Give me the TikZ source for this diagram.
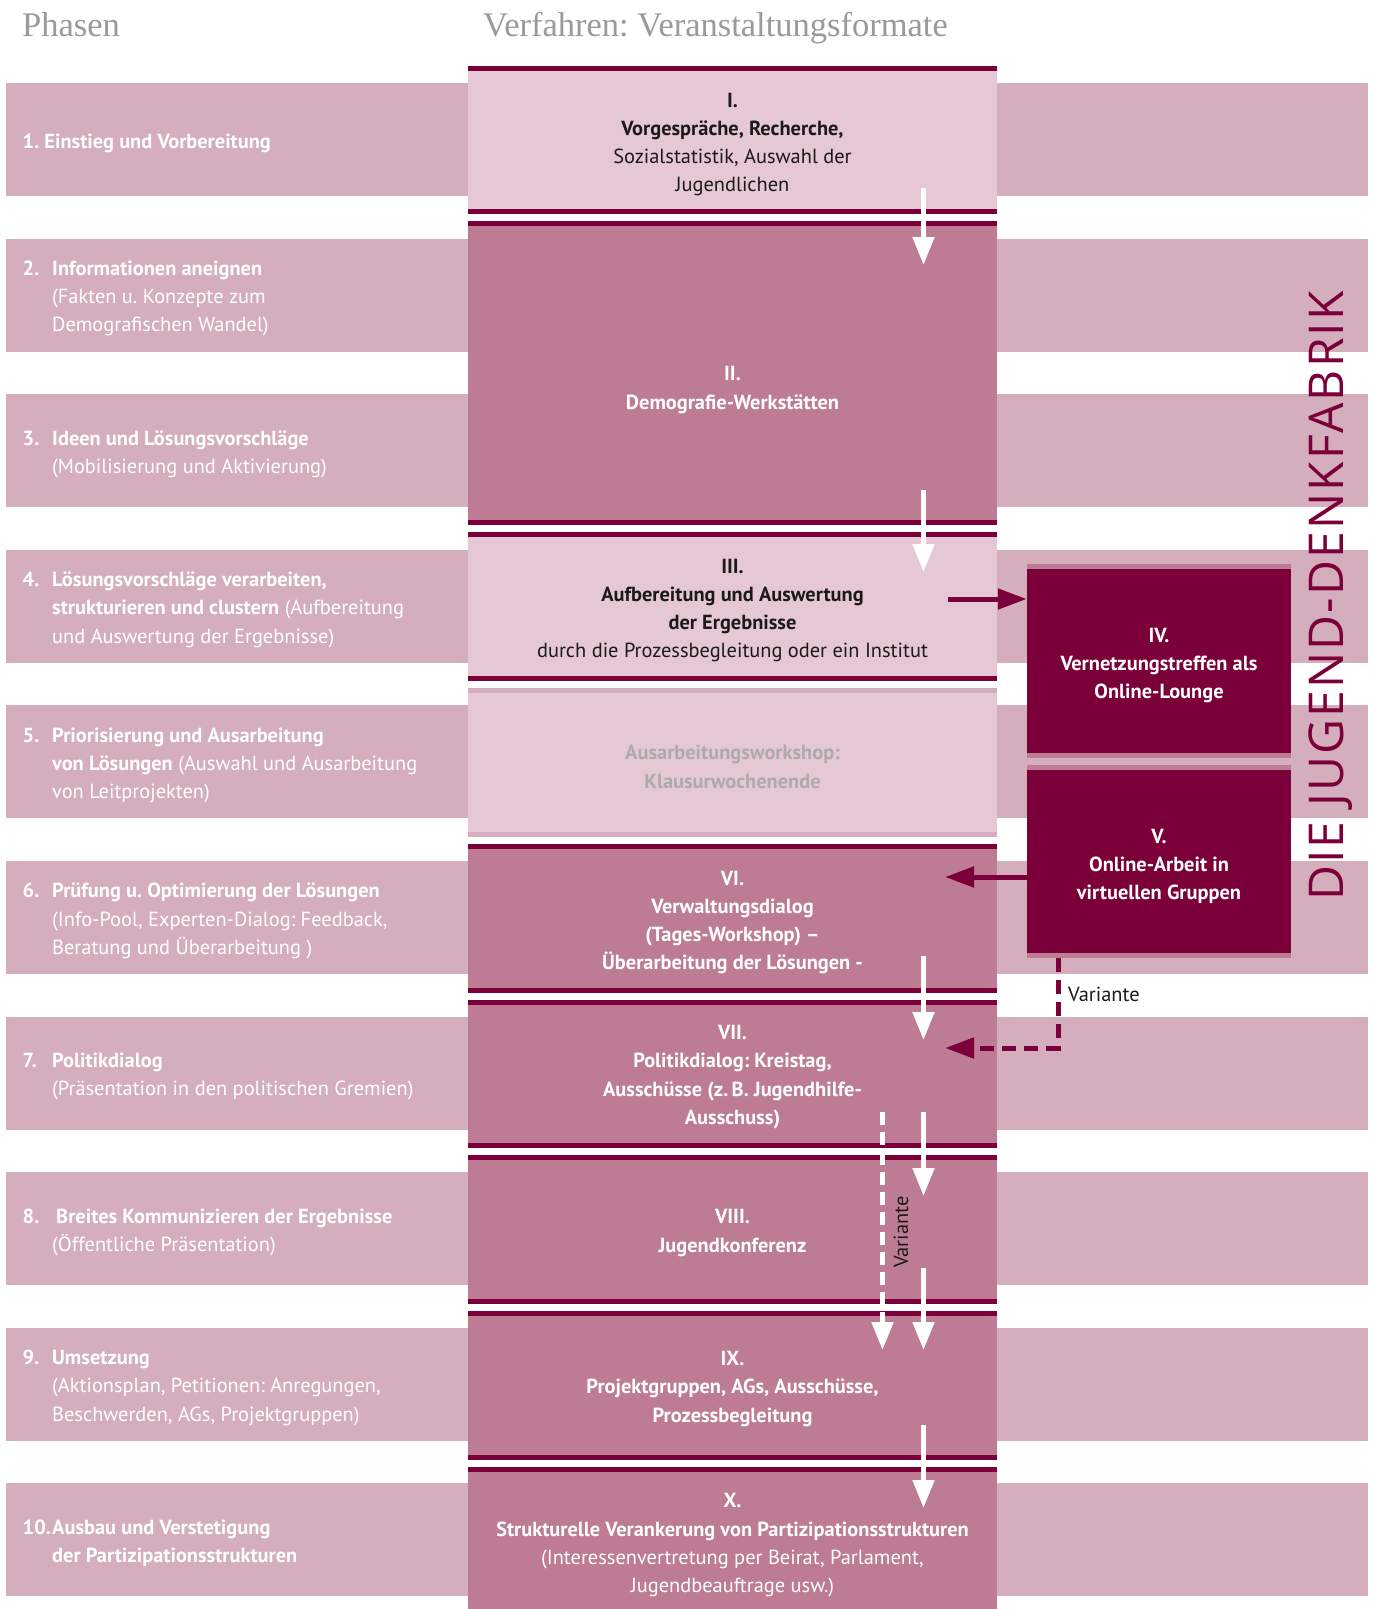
\documentclass[tikz,border=0pt]{standalone}
\usepackage{fontspec}
\setmainfont{PT Sans}
\newfontfamily\headfont{Liberation Serif}
\newfontfamily\titlefont[LetterSpace=4.5]{Open Sans}
\usetikzlibrary{arrows.meta}
\frenchspacing
\definecolor{rowc}{HTML}{D5AEBD}
\definecolor{lightc}{HTML}{E6C8D4}
\definecolor{midc}{HTML}{BD7C93}
\definecolor{darkc}{HTML}{7B0039}
\definecolor{headc}{HTML}{9A9A9A}
\definecolor{ausc}{HTML}{ABABAB}
\definecolor{txtc}{HTML}{1A1A1A}
\newcommand{\nr}[1]{\makebox[29.5pt][l]{\textbf{#1}}}
\newcommand{\ind}{\hspace*{29.5pt}}
\tikzset{
  rowbox/.style={rectangle, fill=rowc, inner sep=0pt, minimum width=1362pt, minimum height=113pt},
  stripes/.style={path picture={
    \fill[#1] (path picture bounding box.north west) rectangle ([yshift=-5pt]path picture bounding box.north east);
    \fill[#1] (path picture bounding box.south west) rectangle ([yshift=5pt]path picture bounding box.south east);}},
  blockbox/.style={rectangle, inner sep=0pt, minimum width=529pt},
  sidebox/.style={rectangle, inner sep=0pt, fill=darkc, minimum width=264pt, stripes=midc},
  basetext/.style={inner sep=0pt, font=\fontsize{20.4pt}{28.3pt}\selectfont},
  ltext/.style={basetext, anchor=west, align=left, text=white},
  ctext/.style={basetext, align=center, text=txtc},
  wtext/.style={basetext, align=center, text=white},
  htext/.style={inner sep=0pt, anchor=base west, text=headc, font=\headfont\fontsize{34.5pt}{38pt}\selectfont},
  warrow/.style={draw=white, line width=5pt, -{Triangle[length=28pt,width=21pt]}},
  darrow/.style={draw=darkc, line width=5pt, -{Triangle[length=29pt,width=20pt]}},
}
\begin{document}
\begin{tikzpicture}[x=1pt,y=-1pt]
\useasboundingbox (0,0) rectangle (1375,1609);
\fill[white] (0,0) rectangle (1375,1609);

% headers
\node[htext] (h1) at (22,36) {Phasen};
\node[htext] (h2) at (483,36) {Verfahren: Veranstaltungsformate};

% phase rows
\foreach \k in {0,...,9} {
  \node[rowbox] (r\k) at (687,{139.5+155.6*\k}) {};
}

% centre blocks
\node[blockbox, fill=lightc, minimum height=148pt, stripes=darkc] (b1) at (732.5,140) {};
\node[blockbox, fill=midc, minimum height=304pt, stripes=darkc] (b2) at (732.5,373) {};
\node[blockbox, fill=lightc, minimum height=149pt, stripes=darkc] (b3) at (732.5,606.5) {};
\node[blockbox, fill=lightc, minimum height=149pt, stripes=rowc] (bA) at (732.5,762.5) {};
\node[blockbox, fill=midc, minimum height=149pt, stripes=darkc] (b6) at (732.5,918.5) {};
\node[blockbox, fill=midc, minimum height=148pt, stripes=darkc] (b7) at (732.5,1074) {};
\node[blockbox, fill=midc, minimum height=149pt, stripes=darkc] (b8) at (732.5,1229.5) {};
\node[blockbox, fill=midc, minimum height=149pt, stripes=darkc] (b9) at (732.5,1385.5) {};
\node[blockbox, fill=midc, minimum height=158pt, stripes=darkc] (b10) at (732.5,1546) {};

% side boxes
\node[sidebox, minimum height=194pt] (b4) at (1159,661) {};
\node[sidebox, minimum height=193pt] (b5) at (1159,861.5) {};

% left texts
\node[ltext] (l1) at (22.5,143) {\textbf{1. Einstieg und Vorbereitung}};
\node[ltext] (l2) at (22.5,298.6) {\nr{2.}\textbf{Informationen aneignen}\\ \ind(Fakten u. Konzepte zum\\ \ind Demografischen Wandel)};
\node[ltext] (l3) at (22.5,454.2) {\nr{3.}\textbf{Ideen und Lösungsvorschläge}\\ \ind(Mobilisierung und Aktivierung)};
\node[ltext] (l4) at (22.5,609.8) {\nr{4.}\textbf{Lösungsvorschläge verarbeiten,}\\ \ind\textbf{strukturieren und clustern} (Aufbereitung\\ \ind und Auswertung der Ergebnisse)};
\node[ltext] (l5) at (22.5,765.4) {\nr{5.}\textbf{Priorisierung und Ausarbeitung}\\ \ind\textbf{von Lösungen} (Auswahl und Ausarbeitung\\ \ind von Leitprojekten)};
\node[ltext] (l6) at (22.5,921) {\nr{6.}\textbf{Prüfung u. Optimierung der Lösungen}\\ \ind(Info-Pool, Experten-Dialog: Feedback,\\ \ind Beratung und Überarbeitung )};
\node[ltext] (l7) at (22.5,1076.6) {\nr{7.}\textbf{Politikdialog}\\ \ind(Präsentation in den politischen Gremien)};
\node[ltext] (l8) at (22.5,1232.2) {\nr{8.}\hspace*{4pt}\textbf{Breites Kommunizieren der Ergebnisse}\\ \ind(Öffentliche Präsentation)};
\node[ltext] (l9) at (22.5,1387.8) {\nr{9.}\textbf{Umsetzung}\\ \ind(Aktionsplan, Petitionen: Anregungen,\\ \ind Beschwerden, AGs, Projektgruppen)};
\node[ltext] (l10) at (22.5,1543.4) {\nr{10.}\textbf{Ausbau und Verstetigung}\\ \ind\textbf{der Partizipationsstrukturen}};

% centre texts
\node[ctext] (t1) at (732.5,144.5) {\textbf{I.}\\ \textbf{Vorgespräche, Recherche,}\\ Sozialstatistik, Auswahl der\\ Jugendlichen};
\node[wtext] (t2) at (732.5,390) {\textbf{II.}\\ \textbf{Demografie-Werkstätten}};
\node[ctext] (t3) at (732.5,610.5) {\textbf{III.}\\ \textbf{Aufbereitung und Auswertung}\\ \textbf{der Ergebnisse}\\ durch die Prozessbegleitung oder ein Institut};
\node[basetext, align=center, text=ausc] (tA) at (732.5,767) {\textbf{Ausarbeitungsworkshop:}\\ \textbf{Klausurwochenende}};
\node[wtext] (t6) at (732.5,922.5) {\textbf{VI.}\\ \textbf{Verwaltungsdialog}\\ \textbf{(Tages-Workshop) –}\\ \textbf{Überarbeitung der Lösungen -}};
\node[wtext] (t7) at (732.5,1077) {\textbf{VII.}\\ \textbf{Politikdialog: Kreistag,}\\ \textbf{Ausschüsse (z.\,B. Jugendhilfe-}\\ \textbf{Ausschuss)}};
\node[wtext] (t8) at (732.5,1233) {\textbf{VIII.}\\ \textbf{Jugendkonferenz}};
\node[wtext] (t9) at (732.5,1389) {\textbf{IX.}\\ \textbf{Projektgruppen, AGs, Ausschüsse,}\\ \textbf{Prozessbegleitung}};
\node[wtext] (t10) at (732.5,1545.5) {\textbf{X.}\\ \textbf{Strukturelle Verankerung von Partizipationsstrukturen}\\ (Interessenvertretung per Beirat, Parlament,\\ Jugendbeauftrage usw.)};
\node[wtext] (t4) at (1159,665.4) {\textbf{IV.}\\ \textbf{Vernetzungstreffen als}\\ \textbf{Online-Lounge}};
\node[wtext] (t5) at (1159,866.5) {\textbf{V.}\\ \textbf{Online-Arbeit in}\\ \textbf{virtuellen Gruppen}};

% vertical title
\node[inner sep=0pt, rotate=90, text=darkc, font=\titlefont\fontsize{48pt}{52pt}\selectfont] (title) at (1331,596) {DIE JUGEND-DENKFABRIK};

% arrow end points
\coordinate (w1s) at (923.5,188);  \coordinate (w1e) at (923.5,265);
\coordinate (w2s) at (923.5,490);  \coordinate (w2e) at (923.5,572);
\coordinate (w3s) at (923.5,956);  \coordinate (w3e) at (923.5,1040);
\coordinate (w4s) at (923.5,1112); \coordinate (w4e) at (923.5,1196);
\coordinate (w5s) at (923.5,1268); \coordinate (w5e) at (923.5,1350);
\coordinate (w6s) at (923.5,1425); \coordinate (w6e) at (923.5,1508);
\coordinate (vs) at (882.5,1112);  \coordinate (ve) at (882.5,1350);
\coordinate (d1s) at (948,599);
\coordinate (d2e) at (945,877);
\coordinate (d3x) at (1058,958);
\coordinate (d3e) at (945,1048);

\draw[warrow] (w1s) -- (w1e);
\draw[warrow] (w2s) -- (w2e);
\draw[warrow] (w3s) -- (w3e);
\draw[warrow] (w4s) -- (w4e);
\draw[warrow] (w5s) -- (w5e);
\draw[warrow] (w6s) -- (w6e);
\draw[warrow, dash pattern=on 13pt off 7pt] (vs) -- (ve);
\node[basetext, rotate=90, text=txtc] (var2) at (901,1232) {Variante};

\draw[darrow] (d1s) -- (d1s -| b4.west);
\draw[darrow] (b5.west |- d2e) -- (d2e);
\draw[darrow, dash pattern=on 14pt off 8pt] (d3x) |- (d3e);
\node[basetext, anchor=west, text=txtc] (var1) at (1068,994) {Variante};
\end{tikzpicture}
\end{document}
